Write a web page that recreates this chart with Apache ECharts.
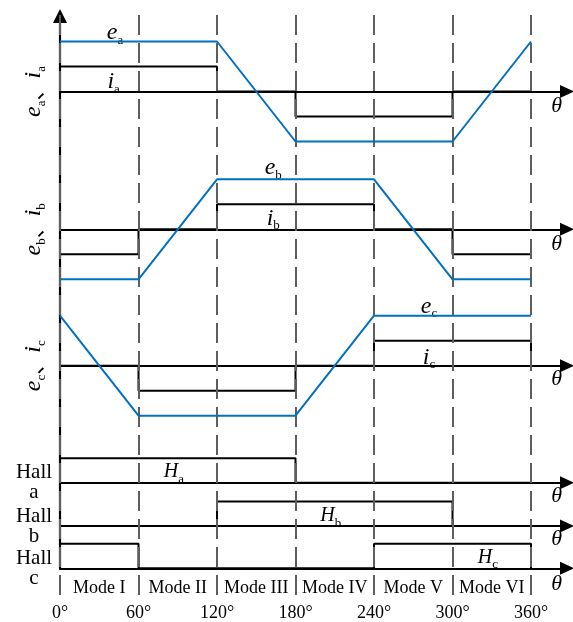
<!DOCTYPE html>
<html>
<head>
<meta charset="utf-8">
<script src="https://cdn.jsdelivr.net/npm/echarts@6/dist/echarts.min.js"></script>
<style>
  html, body { margin: 0; padding: 0; background: #fff; }
  #chart { width: 573px; height: 622px; }
</style>
</head>
<body>
<div id="chart"></div>
<script>
// Electrical angle breakpoints and their labels
const thetaTicks = [0, 60, 120, 180, 240, 300, 360];
const tickLabels = ['0°', '60°', '120°', '180°', '240°', '300°', '360°'];
const modes = ['Mode I', 'Mode II', 'Mode III', 'Mode IV', 'Mode V', 'Mode VI'];

// Trapezoidal back-EMF (normalised) at each breakpoint
const ea = [1, 1, 1, -1, -1, -1, 1];
const eb = [-1, -1, 1, 1, 1, -1, -1];
const ec = [1, -1, -1, -1, 1, 1, 1];

// Phase currents: value held from each breakpoint to the next
const ia = [0.5, 0.5, 0, -0.5, -0.5, 0, 0];
const ib = [-0.5, 0, 0.5, 0.5, 0, -0.5, -0.5];
const ic = [0, -0.5, -0.5, 0, 0.5, 0.5, 0];

// Hall sensor logic levels
const ha = [1, 1, 1, 0, 0, 0, 0];
const hb = [0, 0, 1, 1, 1, 0, 0];
const hc = [1, 0, 0, 0, 1, 1, 0];

// ---- layout ----
const LEFT = 60, PX360 = 471, AXIS_END = 567;
const W = AXIS_END - LEFT;
const XMAX = 360 * W / PX360;
const SERIF = 'Liberation Serif';
const BLUE = '#0070C0';
const PHASE_PPU = 50, PHASE_RANGE = 1.5;
const HALL_PPU = 24.5, HALL_RANGE = 1.5;

const rich = {
  v: { fontFamily: SERIF, fontStyle: 'italic', fontSize: 24, lineHeight: 28, color: '#000' },
  h: { fontFamily: SERIF, fontStyle: 'italic', fontSize: 20, lineHeight: 28, color: '#000' },
  s: { fontFamily: SERIF, fontSize: 13, lineHeight: 19, verticalAlign: 'bottom', color: '#000' },
  p: { fontFamily: 'Noto Sans CJK SC', fontSize: 22, lineHeight: 28, color: '#000' },
  t: { fontFamily: SERIF, fontStyle: 'italic', fontSize: 22, lineHeight: 28, color: '#000' }
};

const phasePanels = [
  { base: 91.5, e: ea, i: ia, sub: 'a', eAt: [42, 1.17], iAt: [41, 0.19], thAt: -0.3 },
  { base: 229.3, e: eb, i: ib, sub: 'b', eAt: [163, 1.23], iAt: [163, 0.22], thAt: -0.29 },
  { base: 365.7, e: ec, i: ic, sub: 'c', eAt: [282, 1.19], iAt: [282, 0.17], thAt: -0.27 }
];
const hallPanels = [
  { base: 482.7, h: ha, sub: 'a', at: [87, 0.45], thAt: -0.56 },
  { base: 526.0, h: hb, sub: 'b', at: [207, 0.41], thAt: -0.55 },
  { base: 568.3, h: hc, sub: 'c', at: [327, 0.44], thAt: -0.64 }
];
const THETA_X = 379.7;

const grid = [], xAxis = [], yAxis = [], series = [];

function hiddenAxisParts() {
  return { axisTick: { show: false }, axisLabel: { show: false }, splitLine: { show: false } };
}
function panelXAxis(gi) {
  return Object.assign({
    gridIndex: gi, type: 'value', min: 0, max: XMAX, z: 3,
    axisLine: { show: true, onZero: true, symbol: ['none', 'triangle'], symbolSize: [13, 14],
      lineStyle: { color: '#000', width: 2.2 } }
  }, hiddenAxisParts());
}
function pts(vals) {
  return thetaTicks.map((t, k) => [t, vals[k]]);
}
function annot(items) {
  return {
    symbol: 'circle', symbolSize: 1, silent: true,
    itemStyle: { color: 'rgba(0,0,0,0)' },
    label: { show: true, position: 'inside', color: '#000', rich: rich },
    data: items.map(a => ({ coord: a.coord, label: { formatter: a.text } }))
  };
}

// EMF / current panels
phasePanels.forEach((p) => {
  const gi = grid.length;
  grid.push({ left: LEFT, width: W, top: p.base - PHASE_RANGE * PHASE_PPU, height: 2 * PHASE_RANGE * PHASE_PPU });
  xAxis.push(panelXAxis(gi));
  yAxis.push(Object.assign({
    gridIndex: gi, type: 'value', min: -PHASE_RANGE, max: PHASE_RANGE,
    axisLine: { show: false },
    name: `{v|e}{s|${p.sub}}{p|、}{v|i}{s|${p.sub}}`,
    nameLocation: 'middle', nameRotate: 90, nameGap: 26,
    nameTextStyle: { align: 'center', verticalAlign: 'middle', rich: rich }
  }, hiddenAxisParts()));
  series.push({
    type: 'line', xAxisIndex: gi, yAxisIndex: gi, data: pts(p.i), step: 'end',
    symbol: 'none', clip: false, z: 4, lineStyle: { color: '#000', width: 2 }
  });
  series.push({
    type: 'line', xAxisIndex: gi, yAxisIndex: gi, data: pts(p.e),
    symbol: 'none', clip: false, z: 5, lineStyle: { color: BLUE, width: 2 },
    markPoint: annot([
      { coord: p.eAt, text: `{v|e}{s|${p.sub}}` },
      { coord: p.iAt, text: `{v|i}{s|${p.sub}}` },
      { coord: [THETA_X, p.thAt], text: '{t|θ}' }
    ])
  });
});

// Hall sensor panels
hallPanels.forEach((p) => {
  const gi = grid.length;
  grid.push({ left: LEFT, width: W, top: p.base - HALL_RANGE * HALL_PPU, height: 2 * HALL_RANGE * HALL_PPU });
  xAxis.push(panelXAxis(gi));
  yAxis.push(Object.assign({
    gridIndex: gi, type: 'value', min: -HALL_RANGE, max: HALL_RANGE,
    axisLine: { show: false },
    name: 'Hall\n' + p.sub,
    nameLocation: 'middle', nameRotate: 0, nameGap: 26,
    nameTextStyle: { align: 'center', verticalAlign: 'middle', fontFamily: SERIF,
      fontSize: 21, lineHeight: 20, color: '#000' }
  }, hiddenAxisParts()));
  series.push({
    type: 'line', xAxisIndex: gi, yAxisIndex: gi, data: pts(p.h), step: 'end',
    symbol: 'none', clip: false, z: 4, lineStyle: { color: '#000', width: 2 },
    markPoint: annot([
      { coord: p.at, text: `{h|H}{s|${p.sub}}` },
      { coord: [THETA_X, p.thAt], text: '{t|θ}' }
    ])
  });
});

// Vertical axis with arrow
{
  const gi = grid.length;
  grid.push({ left: LEFT, width: W, top: 16, height: 568.3 - 16 });
  xAxis.push({ gridIndex: gi, type: 'value', min: 0, max: XMAX, show: false });
  yAxis.push(Object.assign({
    gridIndex: gi, type: 'value', min: 0, max: 1, z: 3,
    axisLine: { show: true, onZero: false, symbol: ['none', 'triangle'], symbolSize: [14, 14],
      lineStyle: { color: '#000', width: 2.2 } }
  }, hiddenAxisParts()));
}

// Dashed angle guides and degree labels
{
  const gi = grid.length;
  grid.push({ left: LEFT, width: W, top: 10, height: 585 });
  xAxis.push({
    gridIndex: gi, type: 'value', min: 0, max: XMAX, interval: 60,
    axisLine: { show: false }, axisTick: { show: false }, splitLine: { show: false },
    axisLabel: {
      show: true, margin: 9, fontFamily: SERIF, fontSize: 18, lineHeight: 18, color: '#000',
      formatter: v => { const k = thetaTicks.indexOf(v); return k < 0 ? '' : tickLabels[k]; }
    }
  });
  yAxis.push({ gridIndex: gi, type: 'value', min: 0, max: 1, show: false });
  series.push({
    type: 'line', xAxisIndex: gi, yAxisIndex: gi, data: [], z: 1, silent: true,
    markLine: {
      silent: true, symbol: ['none', 'none'], label: { show: false },
      lineStyle: { type: [20, 8], color: '#5e5e5e', width: 2 },
      emphasis: { disabled: true },
      data: thetaTicks.map(t => ({ xAxis: t }))
    }
  });
}

// Commutation mode labels
{
  const gi = grid.length;
  grid.push({ left: LEFT, width: PX360, top: 568, height: 6 });
  xAxis.push({
    gridIndex: gi, type: 'category', data: modes, boundaryGap: true,
    axisLine: { show: false }, axisTick: { show: false }, splitLine: { show: false },
    axisLabel: { show: true, interval: 0, margin: 5, fontFamily: SERIF, fontSize: 18, lineHeight: 18, color: '#000' }
  });
  yAxis.push({ gridIndex: gi, type: 'value', show: false });
}

const chart = echarts.init(document.getElementById('chart'), null, { renderer: 'canvas' });
chart.setOption({ animation: false, backgroundColor: '#fff', grid, xAxis, yAxis, series });
</script>
</body>
</html>
